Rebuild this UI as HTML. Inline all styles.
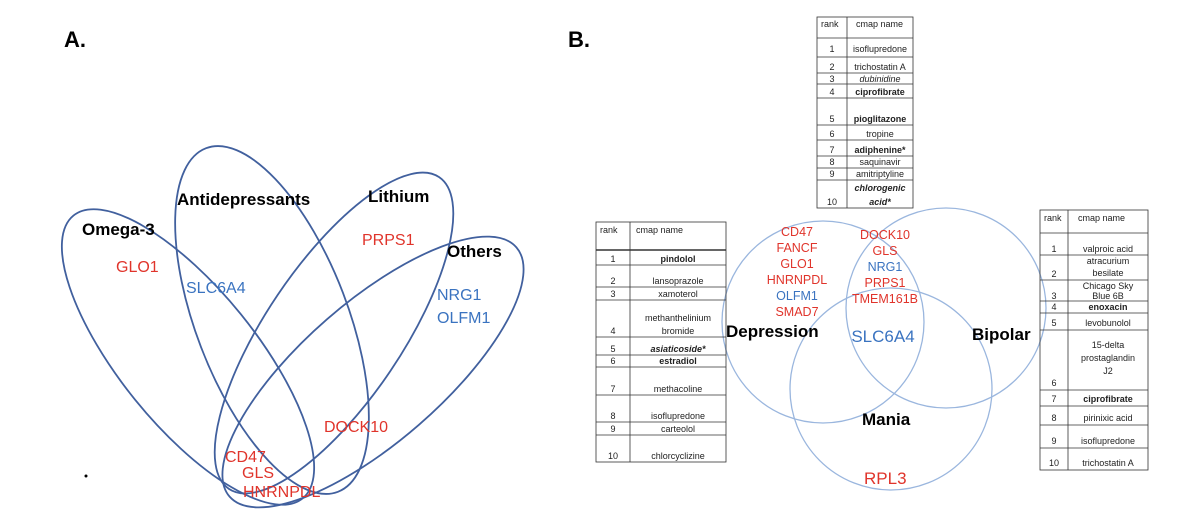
<!DOCTYPE html>
<html><head><meta charset="utf-8"><style>
body{margin:0;background:#fff;width:1200px;height:519px;overflow:hidden}
svg{font-family:"Liberation Sans",Arial,sans-serif}
</style></head><body>
<svg width="1200" height="519" viewBox="0 0 1200 519" xmlns="http://www.w3.org/2000/svg">
<text x="64" y="47" font-size="22" font-weight="bold">A.</text>
<text x="568" y="47" font-size="22" font-weight="bold">B.</text>
<g fill="none" stroke="#41609e" stroke-width="1.8">
<ellipse cx="188" cy="357" rx="182" ry="68" transform="rotate(51 188 357)"/>
<ellipse cx="272" cy="320" rx="184" ry="76" transform="rotate(69 272 320)"/>
<ellipse cx="334" cy="333" rx="188" ry="68" transform="rotate(124 334 333)"/>
<ellipse cx="373" cy="372" rx="190" ry="70" transform="rotate(139 373 372)"/>
</g>
<g font-weight="bold" font-size="17">
<text x="82" y="235">Omega-3</text>
<text x="177" y="205">Antidepressants</text>
<text x="368" y="202">Lithium</text>
<text x="447" y="257">Others</text>
</g>
<g font-size="16" fill="#e0342b">
<text x="116" y="272">GLO1</text>
<text x="362" y="245">PRPS1</text>
<text x="324" y="432">DOCK10</text>
<text x="225" y="462">CD47</text>
<text x="242" y="478">GLS</text>
<text x="243" y="497">HNRNPDL</text>
</g>
<g font-size="16" fill="#3a73c0">
<text x="186" y="293">SLC6A4</text>
<text x="437" y="300">NRG1</text>
<text x="437" y="323">OLFM1</text>
</g>
<circle cx="86" cy="476" r="1.5" fill="#000"/>
<g fill="none" stroke="#9ab6de" stroke-width="1.3">
<circle cx="823" cy="322" r="101"/>
<circle cx="946" cy="308" r="100"/>
<circle cx="891" cy="389" r="101"/>
</g>
<g font-size="12.5" fill="#e0342b" text-anchor="middle">
<text x="797" y="236">CD47</text>
<text x="797" y="252">FANCF</text>
<text x="797" y="268">GLO1</text>
<text x="797" y="284">HNRNPDL</text>
<text x="797" y="316">SMAD7</text>
<text x="885" y="239">DOCK10</text>
<text x="885" y="255">GLS</text>
<text x="885" y="287">PRPS1</text>
<text x="885" y="303">TMEM161B</text>
</g>
<g font-size="12.5" fill="#3a73c0" text-anchor="middle">
<text x="797" y="300">OLFM1</text>
<text x="885" y="271">NRG1</text>
</g>
<text x="883" y="342" font-size="17" fill="#3a73c0" text-anchor="middle">SLC6A4</text>
<text x="864" y="484" font-size="17" fill="#e0342b">RPL3</text>
<g font-weight="bold" font-size="17">
<text x="726" y="337">Depression</text>
<text x="972" y="340">Bipolar</text>
<text x="862" y="425">Mania</text>
</g>
<g font-size="9" fill="#222" stroke="none">
<g stroke="#333" stroke-width="0.8" fill="none">
<rect x="596" y="222" width="130" height="240"/>
<line x1="630" y1="222" x2="630" y2="462"/>
<line x1="596" y1="250" x2="726" y2="250" stroke-width="1.5"/>
<line x1="596" y1="265" x2="726" y2="265"/>
<line x1="596" y1="287" x2="726" y2="287"/>
<line x1="596" y1="300" x2="726" y2="300"/>
<line x1="596" y1="337" x2="726" y2="337"/>
<line x1="596" y1="355" x2="726" y2="355"/>
<line x1="596" y1="367" x2="726" y2="367"/>
<line x1="596" y1="395" x2="726" y2="395"/>
<line x1="596" y1="422" x2="726" y2="422"/>
<line x1="596" y1="435" x2="726" y2="435"/>
</g>
<text x="600" y="233">rank</text><text x="636" y="233">cmap name</text>
<g text-anchor="middle">
<text x="613" y="262">1</text><text x="678" y="262" font-weight="bold">pindolol</text>
<text x="613" y="284">2</text><text x="678" y="284">lansoprazole</text>
<text x="613" y="297">3</text><text x="678" y="297">xamoterol</text>
<text x="613" y="334">4</text><text x="678" y="321">methanthelinium</text><text x="678" y="334">bromide</text>
<text x="613" y="352">5</text><text x="678" y="352" font-weight="bold" font-style="italic">asiaticoside*</text>
<text x="613" y="364">6</text><text x="678" y="364" font-weight="bold">estradiol</text>
<text x="613" y="392">7</text><text x="678" y="392">methacoline</text>
<text x="613" y="419">8</text><text x="678" y="419">isoflupredone</text>
<text x="613" y="432">9</text><text x="678" y="432">carteolol</text>
<text x="613" y="459">10</text><text x="678" y="459">chlorcyclizine</text>
</g>
<g stroke="#333" stroke-width="0.8" fill="none">
<rect x="817" y="17" width="96" height="191"/>
<line x1="847" y1="17" x2="847" y2="208"/>
<line x1="817" y1="38" x2="913" y2="38"/>
<line x1="817" y1="57" x2="913" y2="57"/>
<line x1="817" y1="73" x2="913" y2="73"/>
<line x1="817" y1="84" x2="913" y2="84"/>
<line x1="817" y1="98" x2="913" y2="98"/>
<line x1="817" y1="125" x2="913" y2="125"/>
<line x1="817" y1="140" x2="913" y2="140"/>
<line x1="817" y1="156" x2="913" y2="156"/>
<line x1="817" y1="168" x2="913" y2="168"/>
<line x1="817" y1="180" x2="913" y2="180"/>
</g>
<text x="821" y="27">rank</text><text x="856" y="27">cmap name</text>
<g text-anchor="middle">
<text x="832" y="52">1</text><text x="880" y="52">isoflupredone</text>
<text x="832" y="70">2</text><text x="880" y="70">trichostatin A</text>
<text x="832" y="82">3</text><text x="880" y="82" font-style="italic">dubinidine</text>
<text x="832" y="95">4</text><text x="880" y="95" font-weight="bold">ciprofibrate</text>
<text x="832" y="122">5</text><text x="880" y="122" font-weight="bold">pioglitazone</text>
<text x="832" y="137">6</text><text x="880" y="137">tropine</text>
<text x="832" y="153">7</text><text x="880" y="153" font-weight="bold">adiphenine*</text>
<text x="832" y="165">8</text><text x="880" y="165">saquinavir</text>
<text x="832" y="177">9</text><text x="880" y="177">amitriptyline</text>
<text x="832" y="205">10</text><text x="880" y="191" font-weight="bold" font-style="italic">chlorogenic</text><text x="880" y="205" font-weight="bold" font-style="italic">acid*</text>
</g>
<g stroke="#333" stroke-width="0.8" fill="none">
<rect x="1040" y="210" width="108" height="260"/>
<line x1="1068" y1="210" x2="1068" y2="470"/>
<line x1="1040" y1="233" x2="1148" y2="233"/>
<line x1="1040" y1="255" x2="1148" y2="255"/>
<line x1="1040" y1="280" x2="1148" y2="280"/>
<line x1="1040" y1="301" x2="1148" y2="301"/>
<line x1="1040" y1="313" x2="1148" y2="313"/>
<line x1="1040" y1="330" x2="1148" y2="330"/>
<line x1="1040" y1="390" x2="1148" y2="390"/>
<line x1="1040" y1="406" x2="1148" y2="406"/>
<line x1="1040" y1="425" x2="1148" y2="425"/>
<line x1="1040" y1="448" x2="1148" y2="448"/>
</g>
<text x="1044" y="221">rank</text><text x="1078" y="221">cmap name</text>
<g text-anchor="middle">
<text x="1054" y="252">1</text><text x="1108" y="252">valproic acid</text>
<text x="1054" y="277">2</text><text x="1108" y="264">atracurium</text><text x="1108" y="276">besilate</text>
<text x="1054" y="299">3</text><text x="1108" y="289">Chicago Sky</text><text x="1108" y="299">Blue 6B</text>
<text x="1054" y="310">4</text><text x="1108" y="310" font-weight="bold">enoxacin</text>
<text x="1054" y="326">5</text><text x="1108" y="326">levobunolol</text>
<text x="1054" y="386">6</text><text x="1108" y="348">15-delta</text><text x="1108" y="361">prostaglandin</text><text x="1108" y="374">J2</text>
<text x="1054" y="402">7</text><text x="1108" y="402" font-weight="bold">ciprofibrate</text>
<text x="1054" y="421">8</text><text x="1108" y="421">pirinixic acid</text>
<text x="1054" y="444">9</text><text x="1108" y="444">isoflupredone</text>
<text x="1054" y="466">10</text><text x="1108" y="466">trichostatin A</text>
</g>
</g>
</svg>
</body></html>
